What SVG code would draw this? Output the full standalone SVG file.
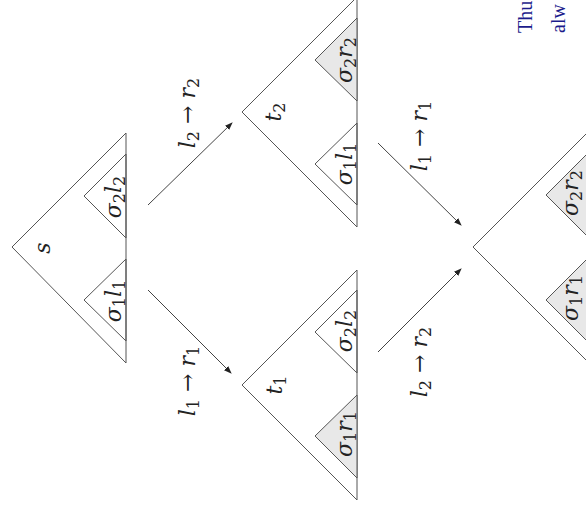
<svg xmlns="http://www.w3.org/2000/svg" width="586" height="516" viewBox="0 0 586 516">
<style>
.tri{fill:none;stroke:#555;stroke-width:1}
.sh{fill:#e8e8e8;stroke:#555;stroke-width:1}
.ar{stroke:#444;stroke-width:1;fill:none}
text{font-family:"DejaVu Serif",serif;fill:#222;font-size:22px}
.i{font-style:italic}
.sb{font-size:16px;font-style:normal}
.lbl{text-anchor:middle}
.blue{fill:#1c1c8c;font-size:20px;font-family:"Liberation Serif",serif}
</style>
<defs>
<marker id="ah" markerWidth="8" markerHeight="6" refX="7" refY="3" orient="auto" markerUnits="userSpaceOnUse">
<path d="M0,0 L8,3 L0,6 Z" fill="#222"/>
</marker>
</defs>
<g id="s">
<polygon class="tri" points="12,247 126,133 126,363"/>
<polygon class="tri" points="84,196 126,154 126,238"/>
<polygon class="tri" points="84,300 126,259 126,341"/>
<text class="i lbl" transform="translate(50,248) rotate(-90)">s</text>
<text class="lbl" transform="translate(121,197) rotate(-90)"><tspan class="i">σ</tspan><tspan class="sb" dy="4">2</tspan><tspan class="i" dy="-4">l</tspan><tspan class="sb" dy="4">2</tspan></text>
<text class="lbl" transform="translate(121,301) rotate(-90)"><tspan class="i">σ</tspan><tspan class="sb" dy="4">1</tspan><tspan class="i" dy="-4">l</tspan><tspan class="sb" dy="4">1</tspan></text>
</g>
<g id="t2">
<polygon class="tri" points="242,112 357,-3 357,227"/>
<polygon class="sh" points="315,60 357,18 357,101"/>
<polygon class="tri" points="315,164 357,123 357,205"/>
<text class="lbl" transform="translate(281,112) rotate(-90)"><tspan class="i">t</tspan><tspan class="sb" dy="4">2</tspan></text>
<text class="lbl" transform="translate(352,60) rotate(-90)"><tspan class="i">σ</tspan><tspan class="sb" dy="4">2</tspan><tspan class="i" dy="-4">r</tspan><tspan class="sb" dy="4">2</tspan></text>
<text class="lbl" transform="translate(352,164) rotate(-90)"><tspan class="i">σ</tspan><tspan class="sb" dy="4">1</tspan><tspan class="i" dy="-4">l</tspan><tspan class="sb" dy="4">1</tspan></text>
</g>
<g id="t1">
<polygon class="tri" points="242,385 357,270 357,500"/>
<polygon class="sh" points="315,436 357,395 357,478"/>
<polygon class="tri" points="315,332 357,290 357,373"/>
<text class="lbl" transform="translate(282,385) rotate(-90)"><tspan class="i">t</tspan><tspan class="sb" dy="4">1</tspan></text>
<text class="lbl" transform="translate(352,331) rotate(-90)"><tspan class="i">σ</tspan><tspan class="sb" dy="4">2</tspan><tspan class="i" dy="-4">l</tspan><tspan class="sb" dy="4">2</tspan></text>
<text class="lbl" transform="translate(352,434) rotate(-90)"><tspan class="i">σ</tspan><tspan class="sb" dy="4">1</tspan><tspan class="i" dy="-4">r</tspan><tspan class="sb" dy="4">1</tspan></text>
</g>
<g id="u">
<polygon class="tri" points="473,247 588,132 588,362"/>
<polygon class="sh" points="546,195 588,153 588,237"/>
<polygon class="sh" points="546,300 588,258 588,342"/>
<text class="lbl" transform="translate(578,193) rotate(-90)"><tspan class="i">σ</tspan><tspan class="sb" dy="4">2</tspan><tspan class="i" dy="-4">r</tspan><tspan class="sb" dy="4">2</tspan></text>
<text class="lbl" transform="translate(578,298) rotate(-90)"><tspan class="i">σ</tspan><tspan class="sb" dy="4">1</tspan><tspan class="i" dy="-4">r</tspan><tspan class="sb" dy="4">1</tspan></text>
</g>
<g id="connectors">
<line class="ar" x1="148" y1="205" x2="232" y2="123" marker-end="url(#ah)"/>
<line class="ar" x1="148" y1="290" x2="231" y2="373" marker-end="url(#ah)"/>
<line class="ar" x1="378" y1="143" x2="461" y2="225" marker-end="url(#ah)"/>
<line class="ar" x1="378" y1="352" x2="461" y2="269" marker-end="url(#ah)"/>
<text class="lbl" transform="translate(195,113) rotate(-90)"><tspan class="i">l</tspan><tspan class="sb" dy="4">2</tspan><tspan dy="-4"> → </tspan><tspan class="i">r</tspan><tspan class="sb" dy="4">2</tspan></text>
<text class="lbl" transform="translate(195,381) rotate(-90)"><tspan class="i">l</tspan><tspan class="sb" dy="4">1</tspan><tspan dy="-4"> → </tspan><tspan class="i">r</tspan><tspan class="sb" dy="4">1</tspan></text>
<text class="lbl" transform="translate(427,136) rotate(-90)"><tspan class="i">l</tspan><tspan class="sb" dy="4">1</tspan><tspan dy="-4"> → </tspan><tspan class="i">r</tspan><tspan class="sb" dy="4">1</tspan></text>
<text class="lbl" transform="translate(427,362) rotate(-90)"><tspan class="i">l</tspan><tspan class="sb" dy="4">2</tspan><tspan dy="-4"> → </tspan><tspan class="i">r</tspan><tspan class="sb" dy="4">2</tspan></text>
</g>
<text class="blue" transform="translate(532,33) rotate(-90)">Thu</text>
<text class="blue" transform="translate(565,33) rotate(-90)">alw</text>
</svg>
